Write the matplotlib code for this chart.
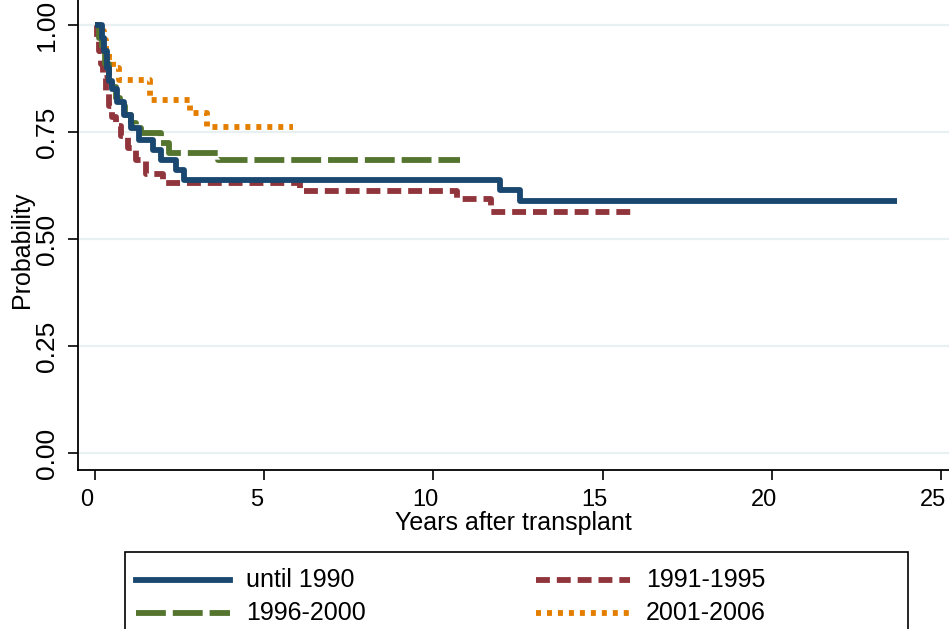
import matplotlib
matplotlib.use("Agg")
import matplotlib.pyplot as plt
from matplotlib.lines import Line2D
from matplotlib.patches import Rectangle
from matplotlib.transforms import ScaledTranslation

plt.rcParams['font.family'] = ['Liberation Sans', 'DejaVu Sans']
plt.rcParams['lines.scale_dashes'] = False

# Kaplan-Meier step data (years, probability)
t_until1990 = [0, 0.06, 0.2, 0.28, 0.35, 0.42, 0.5, 0.65, 0.85, 1.06, 1.3, 1.7, 1.94, 2.38, 2.62, 11.97, 12.56, 23.7]
s_until1990 = [1.0, 1.0, 0.97, 0.94, 0.90, 0.87, 0.85, 0.82, 0.79, 0.759, 0.731, 0.708, 0.685, 0.661, 0.638, 0.614, 0.589, 0.589]

t_1991 = [0, 0.06, 0.12, 0.18, 0.25, 0.32, 0.4, 0.5, 0.62, 0.76, 0.97, 1.22, 1.5, 2.0, 6.06, 10.69, 11.69, 15.99]
s_1991 = [1.0, 0.965, 0.94, 0.91, 0.875, 0.845, 0.81, 0.785, 0.765, 0.74, 0.712, 0.685, 0.652, 0.63, 0.613, 0.593, 0.564, 0.564]

t_1996 = [0, 0.12, 0.2, 0.3, 0.4, 0.5, 0.62, 0.75, 0.9, 1.05, 1.2, 1.35, 1.95, 2.2, 3.63, 10.79]
s_1996 = [1.0, 0.97, 0.94, 0.91, 0.88, 0.855, 0.83, 0.81, 0.79, 0.77, 0.76, 0.748, 0.724, 0.70, 0.685, 0.685]

t_2001 = [0, 0.18, 0.26, 0.32, 0.4, 0.53, 0.72, 1.62, 2.82, 3.32, 5.85]
s_2001 = [1.0, 0.985, 0.965, 0.945, 0.925, 0.90, 0.872, 0.825, 0.795, 0.762, 0.762]

labels = ['until 1990', '1991-1995', '1996-2000', '2001-2006']
x_ticks = [0, 5, 10, 15, 20, 25]
y_ticks = [0.0, 0.25, 0.5, 0.75, 1.0]
y_ticklabels = ['0.00', '0.25', '0.50', '0.75', '1.00']

navy = '#1a476f'
maroon = '#90353b'
green = '#55752f'
orange = '#e37e00'
styles = [
    dict(color=navy, linestyle='-'),
    dict(color=maroon, dashes=(10, 5)),
    dict(color=green, dashes=(21.5, 5)),
    dict(color=orange, dashes=(3.6, 4.3)),
]
lw = 4.2

# pixel layout of the reference: x0 px, px per year, y0 px, px per unit
X0, XS = 95.0, 33.84
Y0, YS = 453.0, 428.0
W, H = 949, 629
fig = plt.figure(figsize=(W / 100, H / 100), dpi=100)
ax = fig.add_axes([77.5 / W, 1 - 470 / H, (W - 77.5) / W, 470 / H])

for yt in y_ticks:
    ax.axhline(yt, color='#e8f0f2', lw=1.6, zorder=0)

series = [(t_until1990, s_until1990), (t_1991, s_1991), (t_1996, s_1996), (t_2001, s_2001)]
order = [1, 3, 2, 0]
for i in order:
    t, s = series[i]
    ax.plot(t, s, drawstyle='steps-post', lw=lw, solid_capstyle='butt',
            zorder=3 + (1 if i == 0 else 0), **styles[i])

ax.set_xlim((77.5 - X0) / XS, (W - X0) / XS)
ax.set_ylim((Y0 - 470) / YS, Y0 / YS)
ax.set_xticks(x_ticks)
ax.set_yticks(y_ticks)
ax.set_yticklabels(y_ticklabels)
ax.tick_params(axis='both', direction='out', length=7.5, width=1.2, colors='black')
ax.tick_params(axis='x', labelsize=17, pad=6)
ax.tick_params(axis='y', labelrotation=90, pad=6)
shift = ScaledTranslation(-8 / 100, 0, fig.dpi_scale_trans)
for lab in ax.get_xticklabels():
    lab.set_transform(lab.get_transform() + shift)
for lab in ax.get_yticklabels():
    lab.set_va('center')
    lab.set_family(['Liberation Sans Narrow', 'Liberation Sans'])
    lab.set_fontsize(19)
for side in ['top', 'right']:
    ax.spines[side].set_visible(False)
for side in ['left', 'bottom']:
    ax.spines[side].set_linewidth(1.3)

ax.set_xlabel('Years after transplant', fontsize=18, labelpad=0)
ax.set_ylabel('Probability', fontsize=18, va='center')
ax.yaxis.set_label_coords((22 - 77.5) / (W - 77.5), 1 - 250 / 470)

# legend box, cut off at the bottom edge like the reference
fig.patches.append(Rectangle((125 / W, 1 - 700 / H), (908 - 125) / W, (700 - 552) / H,
                             transform=fig.transFigure, fill=False, edgecolor='black', lw=1.2))
entries = [(0, 136, 580), (1, 536, 580), (2, 136, 613), (3, 536, 613)]
for i, x0, y0 in entries:
    yy = 1 - y0 / H
    fig.lines.append(Line2D([x0 / W, (x0 + 94) / W], [yy, yy], transform=fig.transFigure,
                            lw=lw, **styles[i]))
    fig.text((x0 + 110) / W, yy, labels[i], fontsize=18, va='center', ha='left')

fig.savefig('out.png', dpi=100)
